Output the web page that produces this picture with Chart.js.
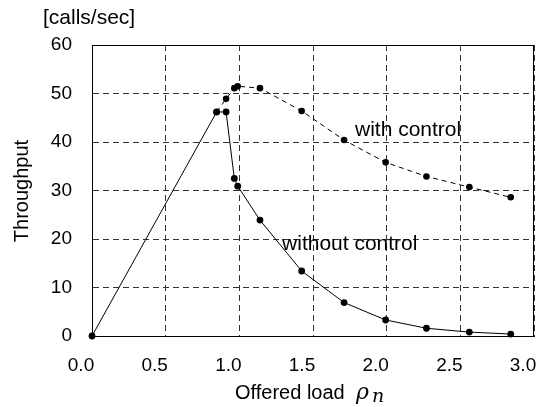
<!DOCTYPE html>
<html>
<head>
<meta charset="utf-8">
<script src="https://cdn.jsdelivr.net/npm/chart.js@4/dist/chart.umd.min.js"></script>
<style>
  html, body { margin: 0; padding: 0; background: #fff; }
  #c { display: block; }
</style>
</head>
<body>
<canvas id="c" width="543" height="407"></canvas>
<script>
// ---- data ----
const loadWithout = [0, 0.846, 0.91, 0.966, 0.989, 1.14, 1.423, 1.711, 1.993, 2.27, 2.561, 2.842];
const throughputWithout = [0, 46.2, 46.2, 32.5, 30.9, 23.9, 13.4, 6.9, 3.3, 1.6, 0.8, 0.4];
const loadWith = [0.846, 0.91, 0.966, 0.989, 1.14, 1.423, 1.711, 1.993, 2.27, 2.561, 2.842];
const throughputWith = [46.2, 48.9, 51.1, 51.5, 51.1, 46.4, 40.4, 35.8, 32.9, 30.7, 28.6];
const xTicks = [0, 0.5, 1.0, 1.5, 2.0, 2.5, 3.0];
const yTicks = [0, 10, 20, 30, 40, 50, 60];
const seriesNames = ['without control', 'with control'];
const yTitle = 'Throughput';
const yUnit = '[calls/sec]';
const xTitle = 'Offered load ';
const xSymbol = 'ρ';
const xSub = 'n';
const labelWith = { x: 1.785, y: 41.2, text: 'with control' };
const labelWithout = { x: 1.29, y: 17.7, text: 'without control' };

const SANS = '"Liberation Sans", Arial, Helvetica, sans-serif';
const SERIF = '"DejaVu Serif", "Liberation Serif", serif';

function pts(xs, ys) { return xs.map((x, i) => ({ x: x, y: ys[i] })); }

const decor = {
  id: 'decor',
  afterDraw(chart) {
    const { ctx, chartArea: a, scales } = chart;
    ctx.save();
    // frame
    ctx.strokeStyle = '#000';
    ctx.lineWidth = 1;
    ctx.setLineDash([]);
    ctx.strokeRect(Math.round(a.left) + 0.5, Math.round(a.top) + 0.5,
                   Math.round(a.right - a.left) - 1, Math.round(a.bottom - a.top));
    ctx.fillStyle = '#000';
    // annotations
    ctx.font = '21px ' + SANS;
    ctx.textAlign = 'left';
    ctx.textBaseline = 'alphabetic';
    [labelWith, labelWithout].forEach(l => {
      ctx.fillText(l.text, scales.x.getPixelForValue(l.x), scales.y.getPixelForValue(l.y));
    });
    // unit
    ctx.font = '21px ' + SANS;
    ctx.textBaseline = 'alphabetic';
    ctx.fillText(yUnit, 43, 24);
    // y title
    ctx.save();
    ctx.translate(22, 191);
    ctx.rotate(-Math.PI / 2);
    ctx.textAlign = 'center';
    ctx.textBaseline = 'middle';
    ctx.font = '20px ' + SANS;
    ctx.fillText(yTitle, 0, 0);
    ctx.restore();
    // x title
    ctx.textBaseline = 'alphabetic';
    ctx.textAlign = 'left';
    ctx.font = '20px ' + SANS;
    ctx.fillText(xTitle, 235, 399);
    ctx.font = 'italic 22px ' + SERIF;
    ctx.fillText(xSymbol, 356, 399);
    ctx.font = 'italic 19px ' + SERIF;
    ctx.fillText(xSub, 372, 402);
    ctx.restore();
  }
};

new Chart(document.getElementById('c'), {
  type: 'line',
  data: {
    datasets: [
      {
        label: seriesNames[0],
        data: pts(loadWithout, throughputWithout),
        borderColor: '#000', backgroundColor: '#000',
        borderWidth: 1, tension: 0,
        pointRadius: 3.4, pointBorderWidth: 0, pointBackgroundColor: '#000',
        clip: false
      },
      {
        label: seriesNames[1],
        data: pts(loadWith, throughputWith),
        borderColor: '#000', backgroundColor: '#000',
        borderWidth: 1, borderDash: [5, 4], tension: 0,
        pointRadius: 3.3, pointBorderWidth: 0, pointBackgroundColor: '#000',
        clip: false
      }
    ]
  },
  options: {
    responsive: false,
    animation: false,
    layout: { padding: { top: 45, right: 9, left: 0, bottom: 0 } },
    plugins: { legend: { display: false }, tooltip: { enabled: false } },
    scales: {
      x: {
        type: 'linear', min: 0, max: 3,
        afterBuildTicks: s => { s.ticks = xTicks.map(v => ({ value: v })); },
        afterFit: s => { s.height = 71; s.paddingLeft = 0; s.paddingRight = 0; },
        ticks: {
          color: '#000', font: { size: 19, family: SANS },
          padding: 18, labelOffset: -11, maxRotation: 0, autoSkip: false,
          callback: v => Number(v).toFixed(1)
        },
        grid: { color: '#333', lineWidth: 1, drawTicks: false },
        border: { display: true, color: '#000', width: 1, dash: [6, 4] }
      },
      y: {
        type: 'linear', min: 0, max: 60,
        afterBuildTicks: s => { s.ticks = yTicks.map(v => ({ value: v })); },
        afterFit: s => { s.width = 92; },
        ticks: {
          color: '#000', font: { size: 19, family: SANS },
          padding: 20, autoSkip: false,
          callback: v => String(v)
        },
        grid: { color: '#333', lineWidth: 1, drawTicks: false },
        border: { display: true, color: '#000', width: 1, dash: [6, 4] }
      }
    }
  },
  plugins: [decor]
});
</script>
</body>
</html>
